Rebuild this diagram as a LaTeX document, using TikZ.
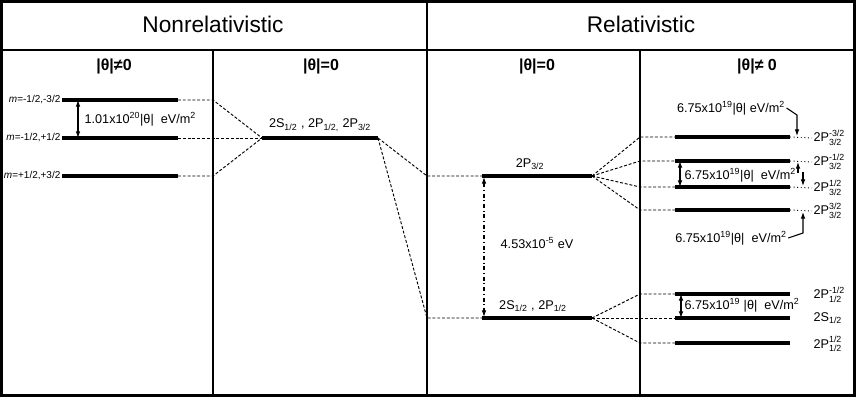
\documentclass[tikz,border=0pt]{standalone}
\usepackage{amsmath}
\usepackage{fontspec}
\setmainfont{Liberation Sans}
\usetikzlibrary{arrows.meta}

\newcommand{\sbs}[1]{\textsubscript{#1}}
\newcommand{\sps}[1]{\textsuperscript{#1}}
\newcommand{\stk}[2]{\ensuremath{^{\text{#1}}_{\text{#2}}}}

\tikzset{
	level/.style={line width=2.3pt},
	conn/.style={line width=0.7pt, dash pattern=on 2.2pt off 1.4pt},
	ext/.style={line width=0.7pt, dotted},
	gap/.style={line width=0.8pt, {Latex[length=5pt,width=3.5pt]}-{Latex[length=5pt,width=3.5pt]}},
	tip/.style={line width=0.8pt, -{Latex[length=5pt,width=3.5pt]}},
	lbl/.style={font=\fontsize{9.5}{11}\selectfont, inner sep=1pt},
	mlbl/.style={font=\fontsize{7.5}{9}\selectfont, inner sep=1pt, anchor=east},
	head/.style={font=\fontsize{17}{20}\selectfont},
	sub/.style={font=\fontsize{12}{14}\selectfont\bfseries}
}

\begin{document}
\begin{tikzpicture}[x=0.75pt, y=-0.75pt]
	\useasboundingbox (0,0) rectangle (860,399);
	
	\draw[line width=2.2pt] (1.5,1.5) rectangle (854.5,395.5);
	\draw[line width=1.2pt] (1.5,50) -- (854.5,50);
	\draw[line width=1.5pt] (427,1.5) -- (427,395.5);
	\draw[line width=1.2pt] (213,50) -- (213,395.5);
	\draw[line width=1.2pt] (640,50) -- (640,395.5);
	
	\node[head] (nonrel) at (213,24) {Nonrelativistic};
	\node[head] (rel) at (641,24) {Relativistic};
	\node[sub] (c1) at (114,66) {|θ|≠0};
	\node[sub] (c2) at (321,66) {|θ|=0};
	\node[sub] (c3) at (537,66) {|θ|=0};
	\node[sub] (c4) at (757,66) {|θ|≠ 0};
	
	\draw[level] (62,100) coordinate (mAl) -- (178,100) coordinate (mAr);
	\draw[level] (62,138) coordinate (mBl) -- (178,138) coordinate (mBr);
	\draw[level] (62,176) coordinate (mCl) -- (178,176) coordinate (mCr);
	\node[mlbl] (mA) at (mAl) {\textit{m}=-1/2,-3/2};
	\node[mlbl] (mB) at (mBl) {\textit{m}=-1/2,+1/2};
	\node[mlbl] (mC) at (mCl) {\textit{m}=+1/2,+3/2};
	\draw[gap] (78,100) -- (78,138);
	\node[lbl, anchor=west] (split1) at (83,119) {1.01x10\sps{20}|θ|\ \ eV/m\sps{2}};
	
	\draw[level] (262,138) coordinate (nl) -- (378,138) coordinate (nr);
	\node[lbl, anchor=south] (n) at (320,133) {2S\sbs{1/2} , 2P\sbs{1/2,} 2P\sbs{3/2}};
	
	\draw[level] (482,176) coordinate (pl) -- (592,176) coordinate (pr);
	\draw[level] (482,318) coordinate (sl) -- (592,318) coordinate (sr);
	\node[lbl, anchor=south] (p) at (530,171) {2P\sbs{3/2}};
	\node[lbl, anchor=south] (s) at (533,313) {2S\sbs{1/2} , 2P\sbs{1/2}};
	\draw[gap, dash dot] (484,177) -- (484,317);
	\node[lbl] (lamb) at (537,243) {4.53x10\sps{-5} eV};
	
	\draw[level] (675,137) coordinate (qAl) -- (790,137) coordinate (qAr);
	\draw[level] (675,161) coordinate (qBl) -- (790,161) coordinate (qBr);
	\draw[level] (675,187) coordinate (qCl) -- (790,187) coordinate (qCr);
	\draw[level] (675,210) coordinate (qDl) -- (790,210) coordinate (qDr);
	\draw[level] (675,294) coordinate (rAl) -- (790,294) coordinate (rAr);
	\draw[level] (675,318) coordinate (rBl) -- (790,318) coordinate (rBr);
	\draw[level] (675,343) coordinate (rCl) -- (790,343) coordinate (rCr);
	
	\node[lbl, anchor=west] (qA) at (812,138) {2P\stk{-3/2}{3/2}};
	\node[lbl, anchor=west] (qB) at (812,162) {2P\stk{-1/2}{3/2}};
	\node[lbl, anchor=west] (qC) at (812,188) {2P\stk{1/2}{3/2}};
	\node[lbl, anchor=west] (qD) at (812,211) {2P\stk{3/2}{3/2}};
	\node[lbl, anchor=west] (rA) at (812,295) {2P\stk{-1/2}{1/2}};
	\node[lbl, anchor=west] (rB) at (812,318) {2S\sbs{1/2}};
	\node[lbl, anchor=west] (rC) at (812,344) {2P\stk{1/2}{1/2}};
	\draw[ext] (qAr) -- (qA.west);
	\draw[ext] (qBr) -- (qB.west);
	\draw[ext] (qCr) -- (qC.west);
	\draw[ext] (qDr) -- (qD.west);
	
	\node[lbl] (tA) at (731,108) {6.75x10\sps{19}|θ| eV/m\sps{2}};
	\draw[tip] (tA.east) -- (797,115) -- (797,136);
	\draw[gap] (680,161) -- (680,187);
	\node[lbl, anchor=west] (tB) at (683,175) {6.75x10\sps{19}|θ|\ \ eV/m\sps{2}};
	\draw[tip] (798,173) -- (798,162);
	\draw[tip] (803,172) -- (803,186);
	\node[lbl] (tC) at (731,238) {6.75x10\sps{19}|θ|\ \ eV/m\sps{2}};
	\draw[tip] (tC.east) -- (803,233) -- (803,212);
	\draw[gap] (681,294) -- (681,318);
	\node[lbl, anchor=west] (tD) at (683,305) {6.75x10\sps{19} |θ|\ \ eV/m\sps{2}};
	
	\coordinate (aA) at (213,100);
	\coordinate (aB) at (213,138);
	\coordinate (aC) at (213,176);
	\draw[conn] (mAr) -- (aA) -- (nl);
	\draw[conn] (mBr) -- (aB) -- (nl);
	\draw[conn] (mCr) -- (aC) -- (nl);
	
	\coordinate (bP) at (427,176);
	\coordinate (bS) at (427,318);
	\draw[conn] (nr) -- (bP) -- (pl);
	\draw[conn] (nr) -- (bS) -- (sl);
	
	\coordinate (cA) at (640,137);
	\coordinate (cB) at (640,161);
	\coordinate (cC) at (640,187);
	\coordinate (cD) at (640,210);
	\draw[conn] (pr) -- (cA) -- (qAl);
	\draw[conn] (pr) -- (cB) -- (qBl);
	\draw[conn] (pr) -- (cC) -- (qCl);
	\draw[conn] (pr) -- (cD) -- (qDl);
	
	\coordinate (dA) at (640,294);
	\coordinate (dB) at (640,318);
	\coordinate (dC) at (640,343);
	\draw[conn] (sr) -- (dA) -- (rAl);
	\draw[conn] (sr) -- (dB) -- (rBl);
	\draw[conn] (sr) -- (dC) -- (rCl);
\end{tikzpicture}
\end{document}
